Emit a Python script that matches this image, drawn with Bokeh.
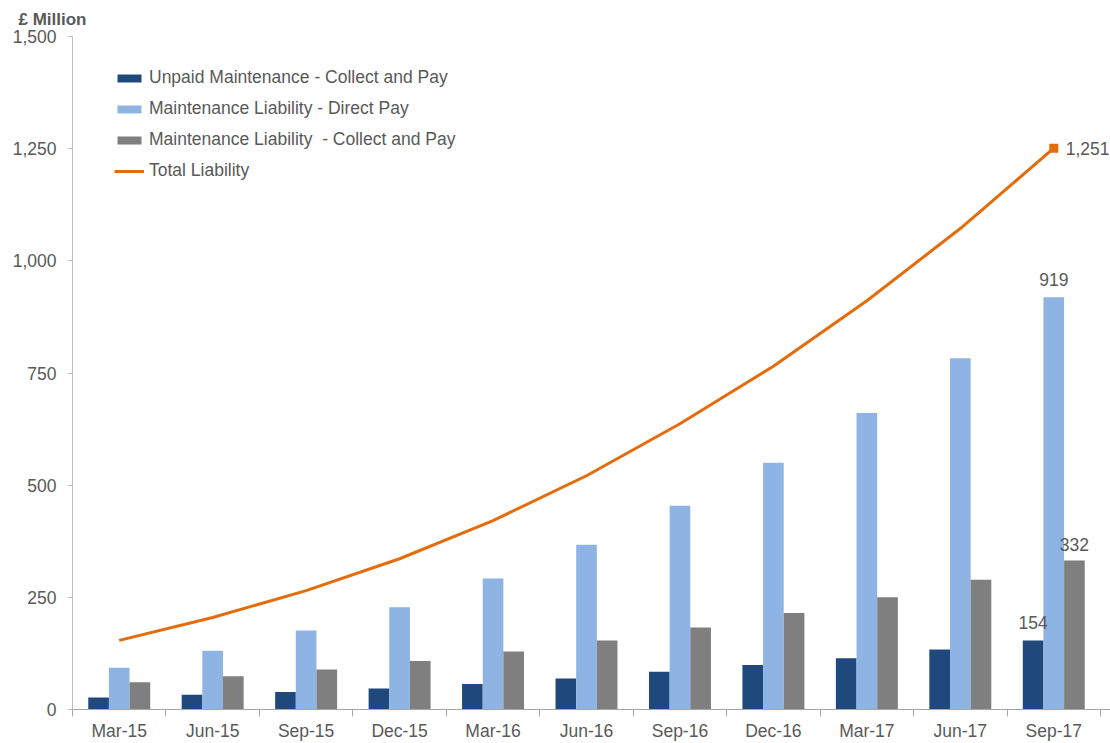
from bokeh.plotting import figure
from bokeh.models import (ColumnDataSource, Range1d, FixedTicker, NumeralTickFormatter,
                          Legend, LegendItem, Title, Label)
from bokeh.embed import file_html
from bokeh.resources import INLINE

categories = ["Mar-15", "Jun-15", "Sep-15", "Dec-15", "Mar-16", "Jun-16",
              "Sep-16", "Dec-16", "Mar-17", "Jun-17", "Sep-17"]
unpaid_collect_pay = [27, 33, 39, 47, 57, 69, 84, 99, 114, 134, 154]
liability_direct_pay = [93, 131, 176, 228, 292, 367, 454, 550, 661, 783, 919]
liability_collect_pay = [61, 74, 89, 108, 129, 154, 183, 215, 250, 289, 332]
total_liability = [154, 205, 265, 336, 421, 521, 637, 765, 911, 1072, 1251]
y_ticks = [0, 250, 500, 750, 1000, 1250, 1500]

FONT = "Liberation Sans"
FS = "17.5px"
TXT = "#595959"
C_DARK = "#1F497D"
C_LIGHT = "#8EB4E3"
C_GRAY = "#7F7F7F"
C_ORANGE = "#E46C0A"

n = len(categories)
centers = [i + 0.5 for i in range(n)]
bw = 0.221

src = ColumnDataSource(dict(
    xc=centers,
    x1=[c - bw for c in centers],
    x3=[c + bw for c in centers],
    unpaid=unpaid_collect_pay,
    direct=liability_direct_pay,
    collect=liability_collect_pay,
    total=total_liability,
))

p = figure(width=1110, height=743, output_backend="svg", toolbar_location=None,
           x_range=Range1d(0, n + 0.107), y_range=Range1d(0, 1500),
           min_border_left=72, min_border_right=0, min_border_top=36, min_border_bottom=33)
p.outline_line_color = None
p.xgrid.visible = False
p.ygrid.visible = False
p.background_fill_color = "white"
p.border_fill_color = "white"

r1 = p.vbar(x="x1", top="unpaid", width=bw, source=src, fill_color=C_DARK, line_color=None)
r2 = p.vbar(x="xc", top="direct", width=bw, source=src, fill_color=C_LIGHT, line_color=None)
r3 = p.vbar(x="x3", top="collect", width=bw, source=src, fill_color=C_GRAY, line_color=None)
r4 = p.line(x="xc", y="total", source=src, line_color=C_ORANGE, line_width=3)

last = n - 1
# end marker
p.scatter(x=[centers[last]], y=[total_liability[last]], marker="square", size=9,
          fill_color=C_ORANGE, line_color=None)

# data labels
def add_label(x, y, text, align, baseline, xo, yo):
    p.add_layout(Label(x=x, y=y, text=text, text_align=align, text_baseline=baseline,
                       x_offset=xo, y_offset=yo, text_font=FONT, text_font_size=FS,
                       text_color=TXT))

add_label(centers[last], total_liability[last], f"{total_liability[last]:,}", "left", "middle", 12, 0)
add_label(centers[last], liability_direct_pay[last], str(liability_direct_pay[last]), "center", "alphabetic", 0, 18)
add_label(centers[last] - bw, unpaid_collect_pay[last], str(unpaid_collect_pay[last]), "center", "alphabetic", 0, 17.5)
add_label(centers[last] + bw, liability_collect_pay[last], str(liability_collect_pay[last]), "center", "alphabetic", 0, 16.5)

# x axis
xa = p.xaxis[0]
xa.ticker = FixedTicker(ticks=centers, minor_ticks=list(range(n + 1)))
xa.major_label_overrides = {c: lab for c, lab in zip(centers, categories)}
xa.major_tick_line_color = None
xa.major_tick_out = 0
xa.major_tick_in = 0
xa.minor_tick_out = 7
xa.minor_tick_in = 0
xa.minor_tick_line_color = "#A6A6A6"
xa.axis_line_color = "#A6A6A6"
xa.major_label_standoff = 4
xa.major_label_text_font = FONT
xa.major_label_text_font_size = FS
xa.major_label_text_color = TXT

# y axis
ya = p.yaxis[0]
ya.ticker = FixedTicker(ticks=y_ticks)
ya.formatter = NumeralTickFormatter(format="0,0")
ya.minor_tick_line_color = None
ya.major_tick_out = 5
ya.major_tick_in = 0
ya.major_tick_line_color = "#BFBFBF"
ya.axis_line_color = "#BFBFBF"
ya.major_label_standoff = 11
ya.major_label_text_font = FONT
ya.major_label_text_font_size = FS
ya.major_label_text_color = TXT

# title
t = Title(text="£ Million", align="left", offset=-54, text_font=FONT,
          text_font_size="17px", text_font_style="bold", text_color=TXT, standoff=15)
p.add_layout(t, "above")

legend = Legend(items=[
    LegendItem(label="Unpaid Maintenance - Collect and Pay", renderers=[r1]),
    LegendItem(label="Maintenance Liability - Direct Pay", renderers=[r2]),
    LegendItem(label="Maintenance Liability  - Collect and Pay", renderers=[r3]),
    LegendItem(label="Total Liability", renderers=[r4]),
], location=(42, 528), orientation="vertical")
legend.border_line_color = None
legend.background_fill_alpha = 0
legend.padding = 0
legend.margin = 0
legend.spacing = 10
legend.glyph_width = 30
legend.glyph_height = 10
legend.label_height = 21
legend.label_standoff = 5
legend.label_text_font = FONT
legend.label_text_font_size = FS
legend.label_text_color = TXT
p.add_layout(legend, "center")

open("out.html", "w").write(file_html(p, INLINE))
